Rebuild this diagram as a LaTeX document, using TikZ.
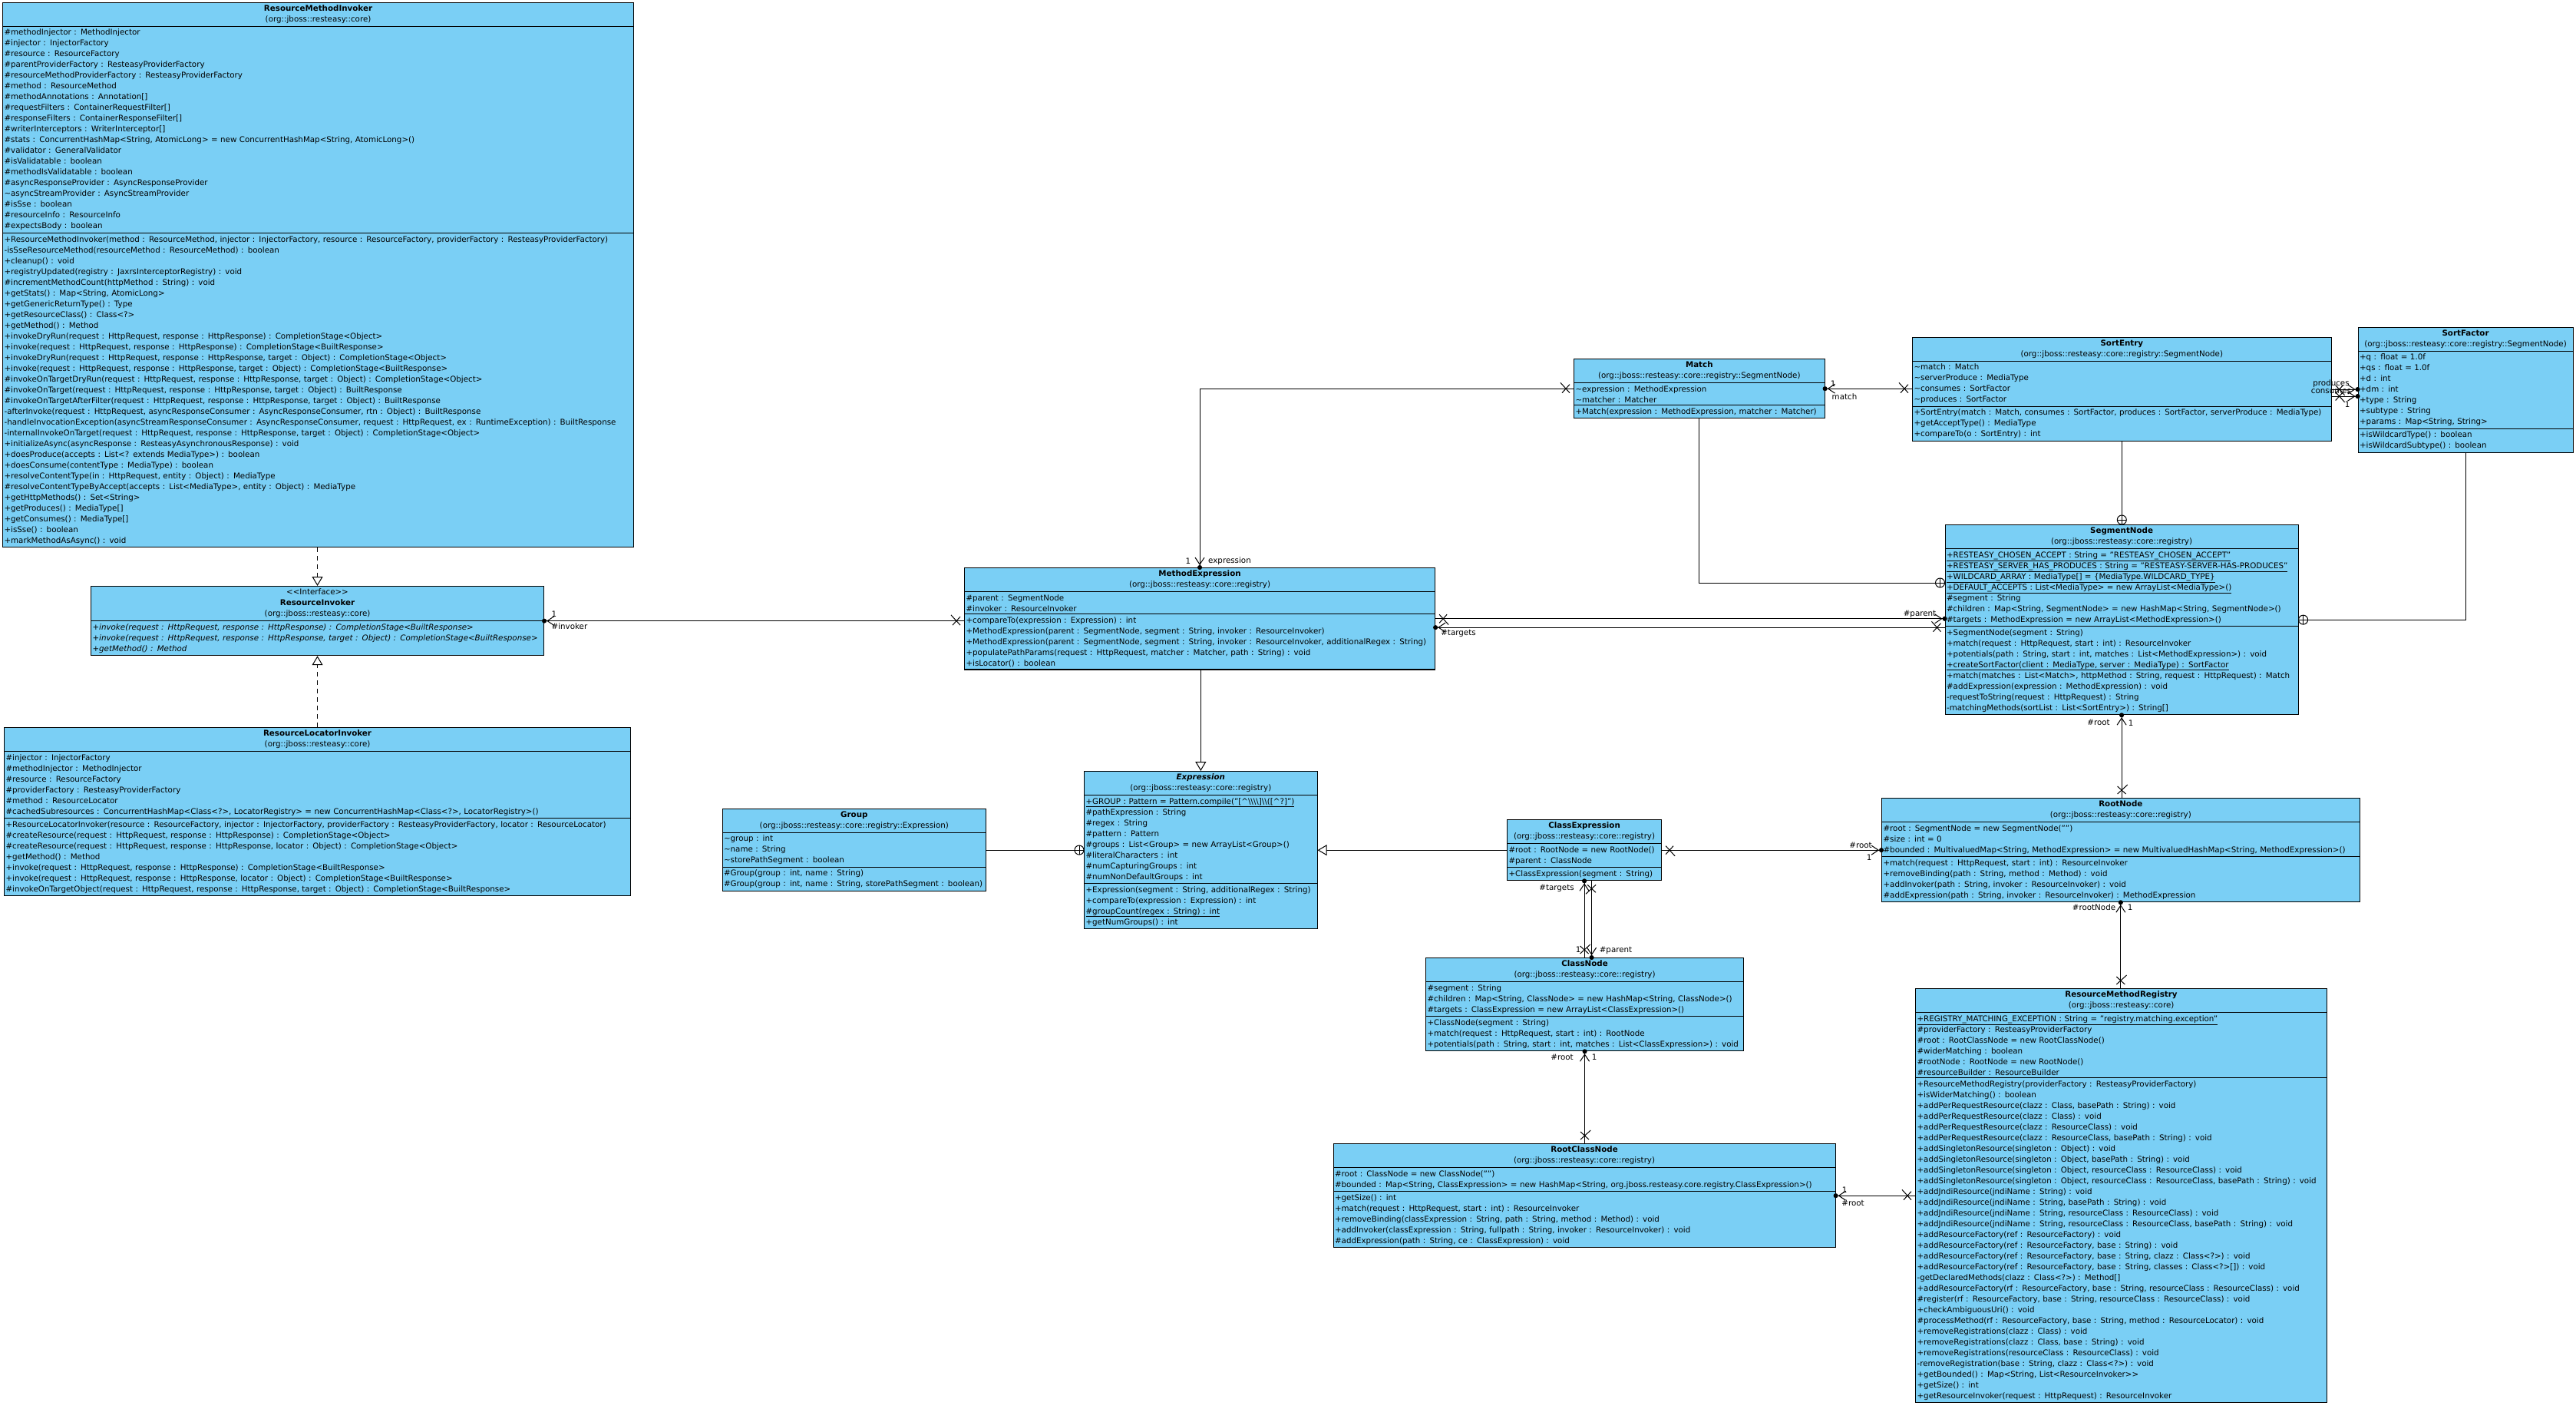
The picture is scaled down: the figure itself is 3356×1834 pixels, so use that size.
\documentclass[tikz,border=0pt]{standalone}
\usepackage{fontspec}
\setmainfont{DejaVu Sans}
\usetikzlibrary{arrows.meta,shapes.multipart,decorations.markings}
\definecolor{umlblue}{RGB}{122,207,245}
\newcommand{\umlfont}{\fontsize{10.3}{14}\selectfont}
\newcommand{\chead}[1]{\makebox[\hsize]{#1}}

\begin{document}
\begin{tikzpicture}[
x=1pt, y=-1pt,
umlclass/.style={rectangle split, rectangle split parts=3, draw, line width=1.1pt, fill=umlblue, text width=#1, align=left, inner xsep=2pt, inner ysep=3pt, anchor=north west, font=\umlfont},
lbl/.style={inner sep=0pt, font=\umlfont},
assoc/.style={line width=1pt},
nav/.style={-{Straight Barb[length=9pt,width=12pt]Circle[length=6pt]}, shorten >=-3pt},
xstart/.style={postaction={decorate, decoration={markings, mark=at position 10pt with {\draw[-, solid] (-5pt,-5.5pt) -- (5pt,5.5pt) (-5pt,5.5pt) -- (5pt,-5.5pt);}}}},
nested/.style={postaction={decorate, decoration={markings, mark=at position -6pt with {\draw[-, solid, fill=white] (0,0) circle (6pt); \draw[-, solid] (-6pt,0) -- (6pt,0) (0,-6pt) -- (0,6pt);}}}},
gen/.style={-{Triangle[open, length=12pt, width=14pt]}},
real/.style={gen, dash pattern=on 6pt off 5pt}
]
\useasboundingbox (0,0) rectangle (3356,1834);
\fill[white] (0,0) rectangle (3356,1834);

\node[umlclass=818pt] (rmi) at (3,3) {\chead{\textbf{ResourceMethodInvoker}}\\\chead{(org::jboss::resteasy::core)}
\nodepart{two}\#methodInjector : MethodInjector\\
\#injector : InjectorFactory\\
\#resource : ResourceFactory\\
\#parentProviderFactory : ResteasyProviderFactory\\
\#resourceMethodProviderFactory : ResteasyProviderFactory\\
\#method : ResourceMethod\\
\#methodAnnotations : Annotation[]\\
\#requestFilters : ContainerRequestFilter[]\\
\#responseFilters : ContainerResponseFilter[]\\
\#writerInterceptors : WriterInterceptor[]\\
\#stats : ConcurrentHashMap<String, AtomicLong> = new ConcurrentHashMap<String, AtomicLong>()\\
\#validator : GeneralValidator\\
\#isValidatable : boolean\\
\#methodIsValidatable : boolean\\
\#asyncResponseProvider : AsyncResponseProvider\\
\textasciitilde asyncStreamProvider : AsyncStreamProvider\\
\#isSse : boolean\\
\#resourceInfo : ResourceInfo\\
\#expectsBody : boolean
\nodepart{three}+ResourceMethodInvoker(method : ResourceMethod, injector : InjectorFactory, resource : ResourceFactory, providerFactory : ResteasyProviderFactory)\\
-isSseResourceMethod(resourceMethod : ResourceMethod) : boolean\\
+cleanup() : void\\
+registryUpdated(registry : JaxrsInterceptorRegistry) : void\\
\#incrementMethodCount(httpMethod : String) : void\\
+getStats() : Map<String, AtomicLong>\\
+getGenericReturnType() : Type\\
+getResourceClass() : Class<?>\\
+getMethod() : Method\\
+invokeDryRun(request : HttpRequest, response : HttpResponse) : CompletionStage<Object>\\
+invoke(request : HttpRequest, response : HttpResponse) : CompletionStage<BuiltResponse>\\
+invokeDryRun(request : HttpRequest, response : HttpResponse, target : Object) : CompletionStage<Object>\\
+invoke(request : HttpRequest, response : HttpResponse, target : Object) : CompletionStage<BuiltResponse>\\
\#invokeOnTargetDryRun(request : HttpRequest, response : HttpResponse, target : Object) : CompletionStage<Object>\\
\#invokeOnTarget(request : HttpRequest, response : HttpResponse, target : Object) : BuiltResponse\\
\#invokeOnTargetAfterFilter(request : HttpRequest, response : HttpResponse, target : Object) : BuiltResponse\\
-afterInvoke(request : HttpRequest, asyncResponseConsumer : AsyncResponseConsumer, rtn : Object) : BuiltResponse\\
-handleInvocationException(asyncStreamResponseConsumer : AsyncResponseConsumer, request : HttpRequest, ex : RuntimeException) : BuiltResponse\\
-internalInvokeOnTarget(request : HttpRequest, response : HttpResponse, target : Object) : CompletionStage<Object>\\
+initializeAsync(asyncResponse : ResteasyAsynchronousResponse) : void\\
+doesProduce(accepts : List<? extends MediaType>) : boolean\\
+doesConsume(contentType : MediaType) : boolean\\
+resolveContentType(in : HttpRequest, entity : Object) : MediaType\\
\#resolveContentTypeByAccept(accepts : List<MediaType>, entity : Object) : MediaType\\
+getHttpMethods() : Set<String>\\
+getProduces() : MediaType[]\\
+getConsumes() : MediaType[]\\
+isSse() : boolean\\
+markMethodAsAsync() : void};

\node[umlclass=586pt, rectangle split parts=2] (rinv) at (118,763) {\chead{<{}<Interface>{}>}\\\chead{\textbf{ResourceInvoker}}\\\chead{(org::jboss::resteasy::core)}
\nodepart{two}\itshape +invoke(request : HttpRequest, response : HttpResponse) : CompletionStage<BuiltResponse>\\
+invoke(request : HttpRequest, response : HttpResponse, target : Object) : CompletionStage<BuiltResponse>\\
+getMethod() : Method};

\node[umlclass=812pt] (rli) at (5,947) {\chead{\textbf{ResourceLocatorInvoker}}\\\chead{(org::jboss::resteasy::core)}
\nodepart{two}\#injector : InjectorFactory\\
\#methodInjector : MethodInjector\\
\#resource : ResourceFactory\\
\#providerFactory : ResteasyProviderFactory\\
\#method : ResourceLocator\\
\#cachedSubresources : ConcurrentHashMap<Class<?>, LocatorRegistry> = new ConcurrentHashMap<Class<?>, LocatorRegistry>()
\nodepart{three}+ResourceLocatorInvoker(resource : ResourceFactory, injector : InjectorFactory, providerFactory : ResteasyProviderFactory, locator : ResourceLocator)\\
\#createResource(request : HttpRequest, response : HttpResponse) : CompletionStage<Object>\\
\#createResource(request : HttpRequest, response : HttpResponse, locator : Object) : CompletionStage<Object>\\
+getMethod() : Method\\
+invoke(request : HttpRequest, response : HttpResponse) : CompletionStage<BuiltResponse>\\
+invoke(request : HttpRequest, response : HttpResponse, locator : Object) : CompletionStage<BuiltResponse>\\
\#invokeOnTargetObject(request : HttpRequest, response : HttpResponse, target : Object) : CompletionStage<BuiltResponse>};

\node[umlclass=339.5pt, inner xsep=1.5pt] (grp) at (941,1053) {\chead{\textbf{Group}}\\\chead{(org::jboss::resteasy::core::registry::Expression)}
\nodepart{two}\textasciitilde group : int\\
\textasciitilde name : String\\
\textasciitilde storePathSegment : boolean
\nodepart{three}\#Group(group : int, name : String)\\
\#Group(group : int, name : String, storePathSegment : boolean)};

\node[umlclass=609pt] (me) at (1256,739) {\chead{\textbf{MethodExpression}}\\\chead{(org::jboss::resteasy::core::registry)}
\nodepart{two}\#parent : SegmentNode\\
\#invoker : ResourceInvoker
\nodepart{three}+compareTo(expression : Expression) : int\\
+MethodExpression(parent : SegmentNode, segment : String, invoker : ResourceInvoker)\\
+MethodExpression(parent : SegmentNode, segment : String, invoker : ResourceInvoker, additionalRegex : String)\\
+populatePathParams(request : HttpRequest, matcher : Matcher, path : String) : void\\
+isLocator() : boolean};

\node[umlclass=299.5pt] (expr) at (1412,1004) {\chead{\textbf{\textit{Expression}}}\\\chead{(org::jboss::resteasy::core::registry)}
\nodepart{two}\underline{+GROUP : Pattern = Pattern.compile("[\textasciicircum\textbackslash\textbackslash\textbackslash\textbackslash]\textbackslash\textbackslash([\textasciicircum?]")}\\
\#pathExpression : String\\
\#regex : String\\
\#pattern : Pattern\\
\#groups : List<Group> = new ArrayList<Group>()\\
\#literalCharacters : int\\
\#numCapturingGroups : int\\
\#numNonDefaultGroups : int
\nodepart{three}+Expression(segment : String, additionalRegex : String)\\
+compareTo(expression : Expression) : int\\
\underline{\#groupCount(regex : String) : int}\\
+getNumGroups() : int};

\node[umlclass=322.5pt] (match) at (2050,467) {\chead{\textbf{Match}}\\\chead{(org::jboss::resteasy::core::registry::SegmentNode)}
\nodepart{two}\textasciitilde expression : MethodExpression\\
\textasciitilde matcher : Matcher
\nodepart{three}+Match(expression : MethodExpression, matcher : Matcher)};

\node[umlclass=541.5pt] (se) at (2491,439) {\chead{\textbf{SortEntry}}\\\chead{(org::jboss::resteasy::core::registry::SegmentNode)}
\nodepart{two}\textasciitilde match : Match\\
\textasciitilde serverProduce : MediaType\\
\textasciitilde consumes : SortFactor\\
\textasciitilde produces : SortFactor
\nodepart{three}+SortEntry(match : Match, consumes : SortFactor, produces : SortFactor, serverProduce : MediaType)\\
+getAcceptType() : MediaType\\
+compareTo(o : SortEntry) : int};

\node[umlclass=276pt] (sf) at (3071.5,426) {\chead{\textbf{SortFactor}}\\\chead{(org::jboss::resteasy::core::registry::SegmentNode)}
\nodepart{two}+q : float = 1.0f\\
+qs : float = 1.0f\\
+d : int\\
+dm : int\\
+type : String\\
+subtype : String\\
+params : Map<String, String>
\nodepart{three}+isWildcardType() : boolean\\
+isWildcardSubtype() : boolean};

\node[umlclass=456pt] (sn) at (2533.5,683) {\chead{\textbf{SegmentNode}}\\\chead{(org::jboss::resteasy::core::registry)}
\nodepart{two}\underline{+RESTEASY\_CHOSEN\_ACCEPT : String = "RESTEASY\_CHOSEN\_ACCEPT"}\\
\underline{+RESTEASY\_SERVER\_HAS\_PRODUCES : String = "RESTEASY-SERVER-HAS-PRODUCES"}\\
\underline{+WILDCARD\_ARRAY : MediaType[] = \{MediaType.WILDCARD\_TYPE\}}\\
\underline{+DEFAULT\_ACCEPTS : List<MediaType> = new ArrayList<MediaType>()}\\
\#segment : String\\
\#children : Map<String, SegmentNode> = new HashMap<String, SegmentNode>()\\
\#targets : MethodExpression = new ArrayList<MethodExpression>()
\nodepart{three}+SegmentNode(segment : String)\\
+match(request : HttpRequest, start : int) : ResourceInvoker\\
+potentials(path : String, start : int, matches : List<MethodExpression>) : void\\
\underline{+createSortFactor(client : MediaType, server : MediaType) : SortFactor}\\
+match(matches : List<Match>, httpMethod : String, request : HttpRequest) : Match\\
\#addExpression(expression : MethodExpression) : void\\
-requestToString(request : HttpRequest) : String\\
-matchingMethods(sortList : List<SortEntry>) : String[]};

\node[umlclass=618.5pt] (rn) at (2451,1039) {\chead{\textbf{RootNode}}\\\chead{(org::jboss::resteasy::core::registry)}
\nodepart{two}\#root : SegmentNode = new SegmentNode("")\\
\#size : int = 0\\
\#bounded : MultivaluedMap<String, MethodExpression> = new MultivaluedHashMap<String, MethodExpression>()
\nodepart{three}+match(request : HttpRequest, start : int) : ResourceInvoker\\
+removeBinding(path : String, method : Method) : void\\
+addInvoker(path : String, invoker : ResourceInvoker) : void\\
\#addExpression(path : String, invoker : ResourceInvoker) : MethodExpression};

\node[umlclass=197pt] (ce) at (1963,1067) {\chead{\textbf{ClassExpression}}\\\chead{(org::jboss::resteasy::core::registry)}
\nodepart{two}\#root : RootNode = new RootNode()\\
\#parent : ClassNode
\nodepart{three}+ClassExpression(segment : String)};

\node[umlclass=410pt] (cn) at (1857,1247) {\chead{\textbf{ClassNode}}\\\chead{(org::jboss::resteasy::core::registry)}
\nodepart{two}\#segment : String\\
\#children : Map<String, ClassNode> = new HashMap<String, ClassNode>()\\
\#targets : ClassExpression = new ArrayList<ClassExpression>()
\nodepart{three}+ClassNode(segment : String)\\
+match(request : HttpRequest, start : int) : RootNode\\
+potentials(path : String, start : int, matches : List<ClassExpression>) : void};

\node[umlclass=650pt] (rcn) at (1736.5,1489) {\chead{\textbf{RootClassNode}}\\\chead{(org::jboss::resteasy::core::registry)}
\nodepart{two}\#root : ClassNode = new ClassNode("")\\
\#bounded : Map<String, ClassExpression> = new HashMap<String, org.jboss.resteasy.core.registry.ClassExpression>()
\nodepart{three}+getSize() : int\\
+match(request : HttpRequest, start : int) : ResourceInvoker\\
+removeBinding(classExpression : String, path : String, method : Method) : void\\
+addInvoker(classExpression : String, fullpath : String, invoker : ResourceInvoker) : void\\
\#addExpression(path : String, ce : ClassExpression) : void};

\node[umlclass=532pt] (rmr) at (2495,1287) {\chead{\textbf{ResourceMethodRegistry}}\\\chead{(org::jboss::resteasy::core)}
\nodepart{two}\underline{+REGISTRY\_MATCHING\_EXCEPTION : String = "registry.matching.exception"}\\
\#providerFactory : ResteasyProviderFactory\\
\#root : RootClassNode = new RootClassNode()\\
\#widerMatching : boolean\\
\#rootNode : RootNode = new RootNode()\\
\#resourceBuilder : ResourceBuilder
\nodepart{three}+ResourceMethodRegistry(providerFactory : ResteasyProviderFactory)\\
+isWiderMatching() : boolean\\
+addPerRequestResource(clazz : Class, basePath : String) : void\\
+addPerRequestResource(clazz : Class) : void\\
+addPerRequestResource(clazz : ResourceClass) : void\\
+addPerRequestResource(clazz : ResourceClass, basePath : String) : void\\
+addSingletonResource(singleton : Object) : void\\
+addSingletonResource(singleton : Object, basePath : String) : void\\
+addSingletonResource(singleton : Object, resourceClass : ResourceClass) : void\\
+addSingletonResource(singleton : Object, resourceClass : ResourceClass, basePath : String) : void\\
+addJndiResource(jndiName : String) : void\\
+addJndiResource(jndiName : String, basePath : String) : void\\
+addJndiResource(jndiName : String, resourceClass : ResourceClass) : void\\
+addJndiResource(jndiName : String, resourceClass : ResourceClass, basePath : String) : void\\
+addResourceFactory(ref : ResourceFactory) : void\\
+addResourceFactory(ref : ResourceFactory, base : String) : void\\
+addResourceFactory(ref : ResourceFactory, base : String, clazz : Class<?>) : void\\
+addResourceFactory(ref : ResourceFactory, base : String, classes : Class<?>[]) : void\\
-getDeclaredMethods(clazz : Class<?>) : Method[]\\
+addResourceFactory(rf : ResourceFactory, base : String, resourceClass : ResourceClass) : void\\
\#register(rf : ResourceFactory, base : String, resourceClass : ResourceClass) : void\\
+checkAmbiguousUri() : void\\
\#processMethod(rf : ResourceFactory, base : String, method : ResourceLocator) : void\\
+removeRegistrations(clazz : Class) : void\\
+removeRegistrations(clazz : Class, base : String) : void\\
+removeRegistrations(resourceClass : ResourceClass) : void\\
-removeRegistration(base : String, clazz : Class<?>) : void\\
+getBounded() : Map<String, List<ResourceInvoker>{}>\\
+getSize() : int\\
+getResourceInvoker(request : HttpRequest) : ResourceInvoker};

\coordinate (seconsumes) at ([yshift=-9pt]se.east);
\coordinate (sntargets) at ([yshift=-10pt]sn.west);
\coordinate (ceparent) at ([xshift=9.5pt]ce.south);
\coordinate (snnest) at ([yshift=-76pt]sn.north west);

\draw[assoc, real] (rinv.north |- rmi.south) -- (rinv.north);
\draw[assoc, real] (rinv.south |- rli.north) -- (rinv.south);
\draw[assoc, gen] (expr.north |- me.south) -- (expr.north);
\draw[assoc, gen] (ce.west) -- (ce.west -| expr.east);
\draw[assoc, nested] (grp.east) -- (grp.east -| expr.west);
\draw[assoc, nested] (se.south) -- (se.south |- sn.north);
\draw[assoc, nested] (match.south) |- (snnest);
\draw[assoc, nested] (sf.south) |- (sn.east);
\draw[assoc, nav, xstart] (rinv.east -| me.west) -- (rinv.east);
\draw[assoc, nav, xstart] (match.west) -| (me.north);
\draw[assoc, nav, xstart] (match.east -| se.west) -- (match.east);
\draw[assoc, nav, xstart] (se.east) -- (se.east -| sf.west);
\draw[assoc, nav, xstart] (seconsumes) -- (seconsumes -| sf.west);
\draw[assoc, nav, xstart] (me.east) -- (me.east -| sn.west);
\draw[assoc, nav, xstart] (sntargets) -- (sntargets -| me.east);
\draw[assoc, nav, xstart] (sn.south |- rn.north) -- (sn.south);
\draw[assoc, nav, xstart] (rn.south |- rmr.north) -- (rn.south);
\draw[assoc, nav, xstart] (ce.east) -- (ce.east -| rn.west);
\draw[assoc, nav, xstart] (ce.south |- cn.north) -- (ce.south);
\draw[assoc, nav, xstart] (ceparent) -- (ceparent |- cn.north);
\draw[assoc, nav, xstart] (cn.south |- rcn.north) -- (cn.south);
\draw[assoc, nav, xstart] (rcn.east -| rmr.west) -- (rcn.east);

\node[lbl] (minvoker) at (722,800) {1};
\node[lbl] (rinvoker) at (742,816) {\#invoker};
\node[lbl] (mexpression) at (1548,731) {1};
\node[lbl] (rexpression) at (1602,731) {expression};
\node[lbl] (mmatch) at (2388,500) {1};
\node[lbl] (rmatch) at (2403,517) {match};
\node[lbl] (rproduces) at (3037,500) {produces};
\node[lbl] (rconsumes) at (3037,510) {consumes};
\node[lbl] (mconsumes) at (3058,527) {1};
\node[lbl] (rparent) at (2501,800) {\#parent};
\node[lbl] (rtargets) at (1900,825) {\#targets};
\node[lbl] (rsnroot) at (2734,941) {\#root};
\node[lbl] (msnroot) at (2776,942) {1};
\node[lbl] (rrootnode) at (2728,1182) {\#rootNode};
\node[lbl] (mrootnode) at (2775,1182) {1};
\node[lbl] (rrnroot) at (2424,1101) {\#root};
\node[lbl] (mrnroot) at (2435,1117) {1};
\node[lbl] (rcetargets) at (2028,1157) {\#targets};
\node[lbl] (mcetargets) at (2056,1237) {1};
\node[lbl] (rcnparent) at (2105,1238) {\#parent};
\node[lbl] (rcnroot) at (2035,1377) {\#root};
\node[lbl] (mcnroot) at (2077,1377) {1};
\node[lbl] (mrcnroot) at (2403,1550) {1};
\node[lbl] (rrcnroot) at (2414,1567) {\#root};
\end{tikzpicture}
\end{document}
